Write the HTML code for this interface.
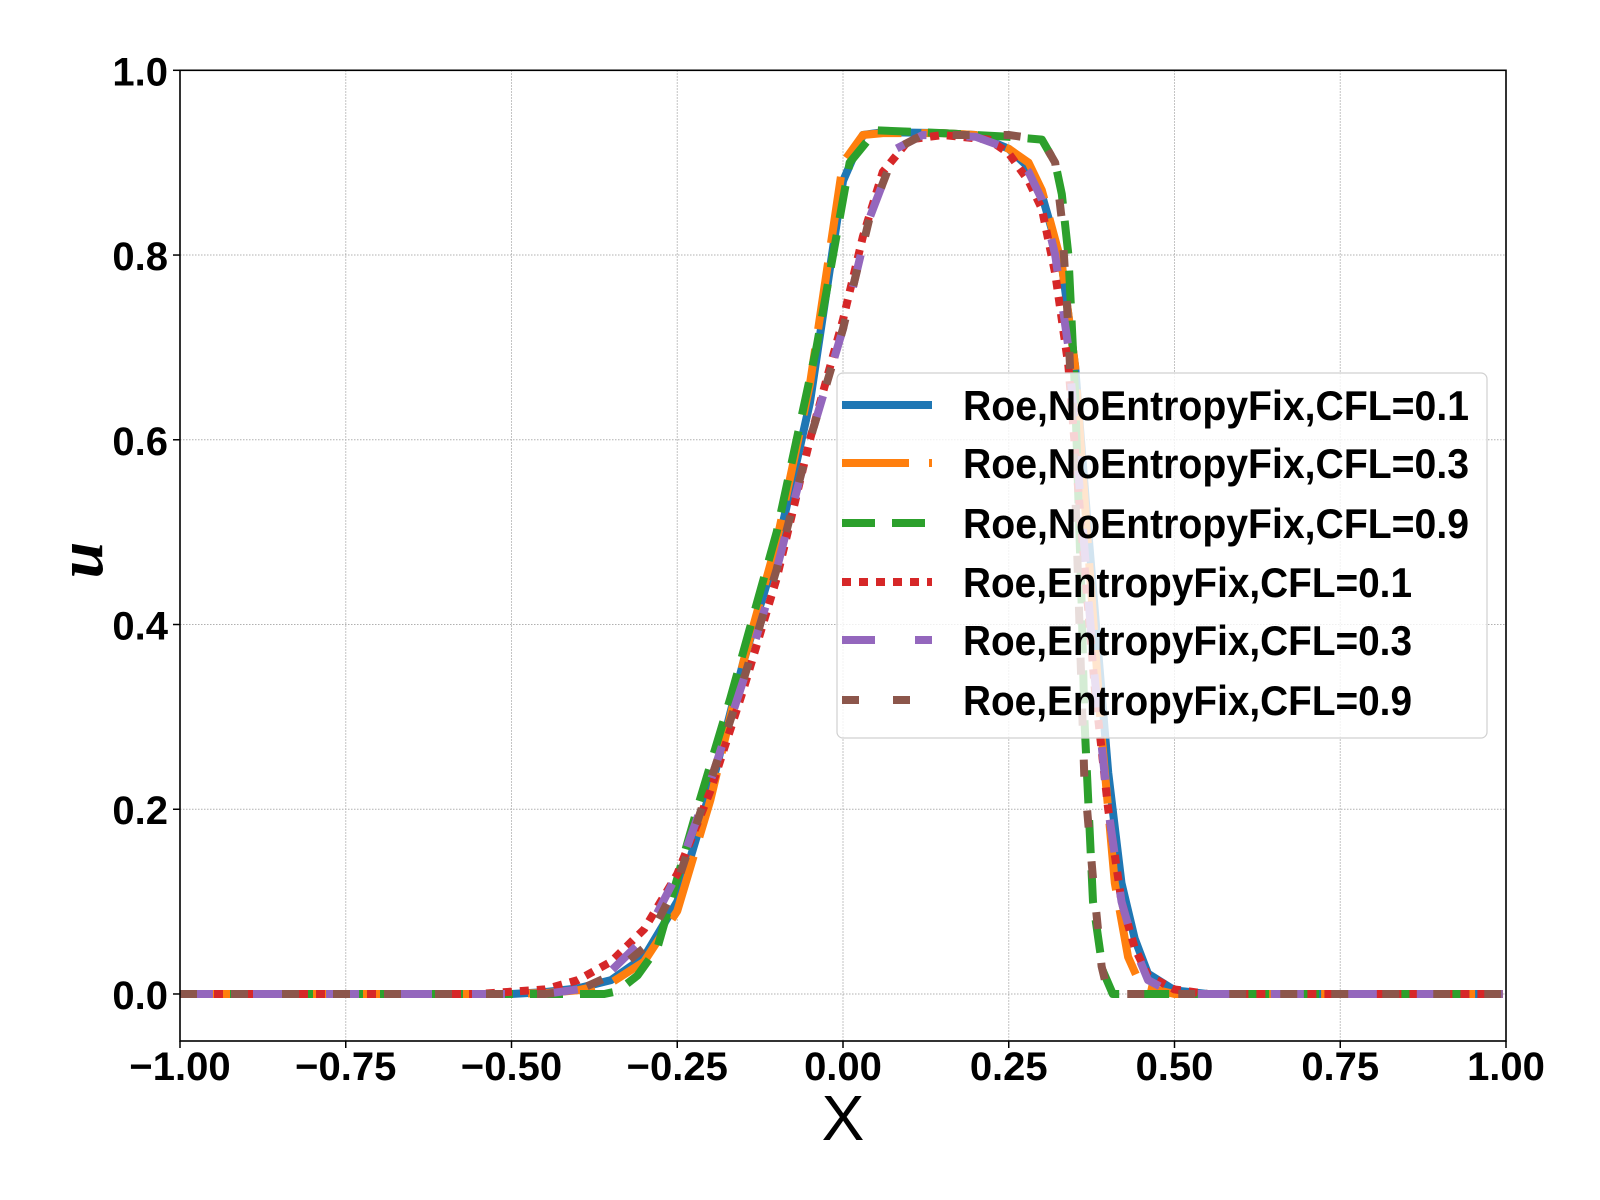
<!DOCTYPE html>
<html><head><meta charset="utf-8"><style>
html,body{margin:0;padding:0;background:#fff;}
svg{display:block;font-family:"Liberation Sans",sans-serif;}
</style></head><body>
<svg id="chart" width="1600" height="1200" viewBox="0 0 1600 1200">
<g id="grid"></g>
<g id="series"></g>
<rect x="180" y="70.3" width="1326" height="970.7" fill="none" stroke="#000" stroke-width="1.6"/>
<g id="ticks"></g>
<text x="843" y="1140" font-size="64" text-anchor="middle">X</text>
<text transform="translate(102,560) rotate(-90)" font-family="'Liberation Serif',serif" font-style="italic" font-weight="bold" font-size="66" text-anchor="middle">u</text>
<g id="legend"></g>
</svg>
<script>
const xTicks = [-1.0, -0.75, -0.5, -0.25, 0.0, 0.25, 0.5, 0.75, 1.0];
const xTickLabels = ["\u22121.00","\u22120.75","\u22120.50","\u22120.25","0.00","0.25","0.50","0.75","1.00"];
const yTicks = [0.0, 0.2, 0.4, 0.6, 0.8, 1.0];
const yTickLabels = ["0.0","0.2","0.4","0.6","0.8","1.0"];
const seriesNames = ["Roe,NoEntropyFix,CFL=0.1","Roe,NoEntropyFix,CFL=0.3","Roe,NoEntropyFix,CFL=0.9","Roe,EntropyFix,CFL=0.1","Roe,EntropyFix,CFL=0.3","Roe,EntropyFix,CFL=0.9"];
const xBlue = [-1,-0.5,-0.45,-0.4,-0.35,-0.3,-0.25,-0.2,-0.15,-0.1,-0.05,0,0.03,0.06,0.15,0.2,0.25,0.28,0.3,0.33,0.35,0.37,0.4,0.42,0.44,0.46,0.5,0.55,0.995];
const yBlue = [0,0,0.002,0.006,0.015,0.04,0.1,0.22,0.36,0.48,0.64,0.88,0.93,0.933,0.932,0.93,0.915,0.895,0.865,0.79,0.68,0.5,0.24,0.12,0.06,0.022,0.004,0,0];
const xOrange = [-1,-0.5,-0.45,-0.4,-0.35,-0.3,-0.25,-0.2,-0.15,-0.1,-0.05,0,0.03,0.06,0.15,0.2,0.25,0.28,0.3,0.33,0.35,0.37,0.39,0.41,0.43,0.45,0.5,0.995];
const yOrange = [0,0,0.001,0.004,0.012,0.035,0.09,0.21,0.36,0.49,0.66,0.9,0.93,0.932,0.932,0.93,0.915,0.9,0.87,0.79,0.68,0.48,0.28,0.12,0.04,0.008,0,0];
const xGreen = [-1,-0.36,-0.34,-0.31,-0.28,-0.26,-0.22,-0.17,-0.1,-0.04,0.01,0.05,0.15,0.25,0.3,0.32,0.33,0.34,0.35,0.36,0.364,0.377,0.392,0.407,0.995];
const yGreen = [0,0,0.003,0.02,0.05,0.1,0.2,0.32,0.5,0.7,0.9,0.935,0.932,0.928,0.925,0.9,0.866,0.8,0.65,0.42,0.3,0.1,0.025,0,0];
const xRed = [-1,-0.55,-0.45,-0.4,-0.35,-0.3,-0.25,-0.2,-0.15,-0.1,-0.05,0,0.03,0.06,0.1,0.15,0.22,0.25,0.28,0.3,0.32,0.34,0.36,0.38,0.4,0.42,0.44,0.46,0.5,0.55,0.995];
const yRed = [0,0,0.005,0.015,0.035,0.07,0.13,0.22,0.33,0.45,0.6,0.73,0.82,0.89,0.925,0.93,0.925,0.91,0.88,0.85,0.78,0.68,0.5,0.33,0.2,0.1,0.05,0.02,0.005,0,0];
const xPurple = [-1,-0.45,-0.4,-0.35,-0.3,-0.25,-0.2,-0.15,-0.1,-0.05,0,0.04,0.08,0.12,0.2,0.25,0.28,0.3,0.32,0.34,0.36,0.38,0.4,0.42,0.44,0.46,0.5,0.995];
const yPurple = [0,0,0.005,0.025,0.06,0.13,0.23,0.34,0.46,0.6,0.72,0.84,0.915,0.93,0.928,0.915,0.89,0.86,0.8,0.7,0.52,0.34,0.2,0.1,0.05,0.015,0,0];
const xBrown = [-1,-0.45,-0.4,-0.35,-0.3,-0.25,-0.2,-0.15,-0.1,-0.05,0,0.04,0.08,0.12,0.2,0.25,0.3,0.32,0.33,0.34,0.35,0.364,0.377,0.39,0.4,0.995];
const yBrown = [0,0,0.004,0.02,0.05,0.12,0.23,0.34,0.46,0.6,0.72,0.84,0.915,0.93,0.93,0.93,0.925,0.9,0.838,0.72,0.55,0.235,0.125,0.03,0,0];

const L=180,R=1506,T=70.3,B=1041;
const xMin=-1,xMax=1,yMin=-0.0509,yMax=1.0;
function sx(v){return L+(v-xMin)/(xMax-xMin)*(R-L);}
function sy(v){return B-(v-yMin)/(yMax-yMin)*(B-T);}
const NS="http://www.w3.org/2000/svg";
function mk(tag,attrs,parent){const e=document.createElementNS(NS,tag);for(const k in attrs)e.setAttribute(k,attrs[k]);parent.appendChild(e);return e;}
const grid=document.getElementById('grid'),ticks=document.getElementById('ticks');
xTicks.forEach((v,i)=>{
  const gl=mk('line',{x1:sx(v),x2:sx(v),y1:T,y2:B,stroke:'#b0b0b0','stroke-width':1,'stroke-dasharray':'1.5,1.5'},grid);
  
  
  const tk=mk('line',{x1:sx(v),x2:sx(v),y1:B,y2:B+7,stroke:'#000','stroke-width':1.5},ticks);
  
  
  const t=mk('text',{x:sx(v),y:1080,'font-size':40,'font-weight':'bold','text-anchor':'middle'},ticks);
  t.textContent=xTickLabels[i];
  
  
});
yTicks.forEach((v,i)=>{
  const gl=mk('line',{x1:L,x2:R,y1:sy(v),y2:sy(v),stroke:'#b0b0b0','stroke-width':1,'stroke-dasharray':'1.5,1.5'},grid);
  
  
  const tk=mk('line',{x1:L-7,x2:L,y1:sy(v),y2:sy(v),stroke:'#000','stroke-width':1.5},ticks);
  
  
  const t=mk('text',{x:168,y:sy(v)+15,'font-size':40,'font-weight':'bold','text-anchor':'end'},ticks);
  t.textContent=yTickLabels[i];
  
  
});
const colors=['#1f77b4','#ff7f0e','#2ca02c','#d62728','#9467bd','#8c564b'];
const dashes=['none','67,20','33,17','9,8','33,40','17,34'];
const xs=[xBlue,xOrange,xGreen,xRed,xPurple,xBrown];
const ys=[yBlue,yOrange,yGreen,yRed,yPurple,yBrown];
const sg=document.getElementById('series');
const names=['series-noentropyfix-cfl-0-1','series-noentropyfix-cfl-0-3','series-noentropyfix-cfl-0-9','series-entropyfix-cfl-0-1','series-entropyfix-cfl-0-3','series-entropyfix-cfl-0-9'];
xs.forEach((xa,s)=>{
  const pts=xa.map((x,i)=>sx(x).toFixed(1)+','+sy(ys[s][i]).toFixed(1)).join(' ');
  const p=mk('polyline',{points:pts,fill:'none',stroke:colors[s],'stroke-width':8,'stroke-dasharray':dashes[s],'stroke-linejoin':'round'},sg);
  
  
});
const lg=document.getElementById('legend');
const box=mk('rect',{x:837,y:373,width:650,height:365,rx:6,fill:'#fff','fill-opacity':0.8,stroke:'#d0d0d0','stroke-width':1.2},lg);


const rowY=[405,463,523,582,640,700];
const textW=[506,506,506,449,449,449];
seriesNames.forEach((n,i)=>{
  const h=mk('line',{x1:842,x2:932,y1:rowY[i],y2:rowY[i],stroke:colors[i],'stroke-width':8,'stroke-dasharray':dashes[i]},lg);
  
  
  const t=mk('text',{x:963,y:rowY[i]+15,'font-size':42,'font-weight':'bold',textLength:textW[i],lengthAdjust:'spacingAndGlyphs'},lg);
  t.textContent=n;
  
  
});
</script>
</body></html>
